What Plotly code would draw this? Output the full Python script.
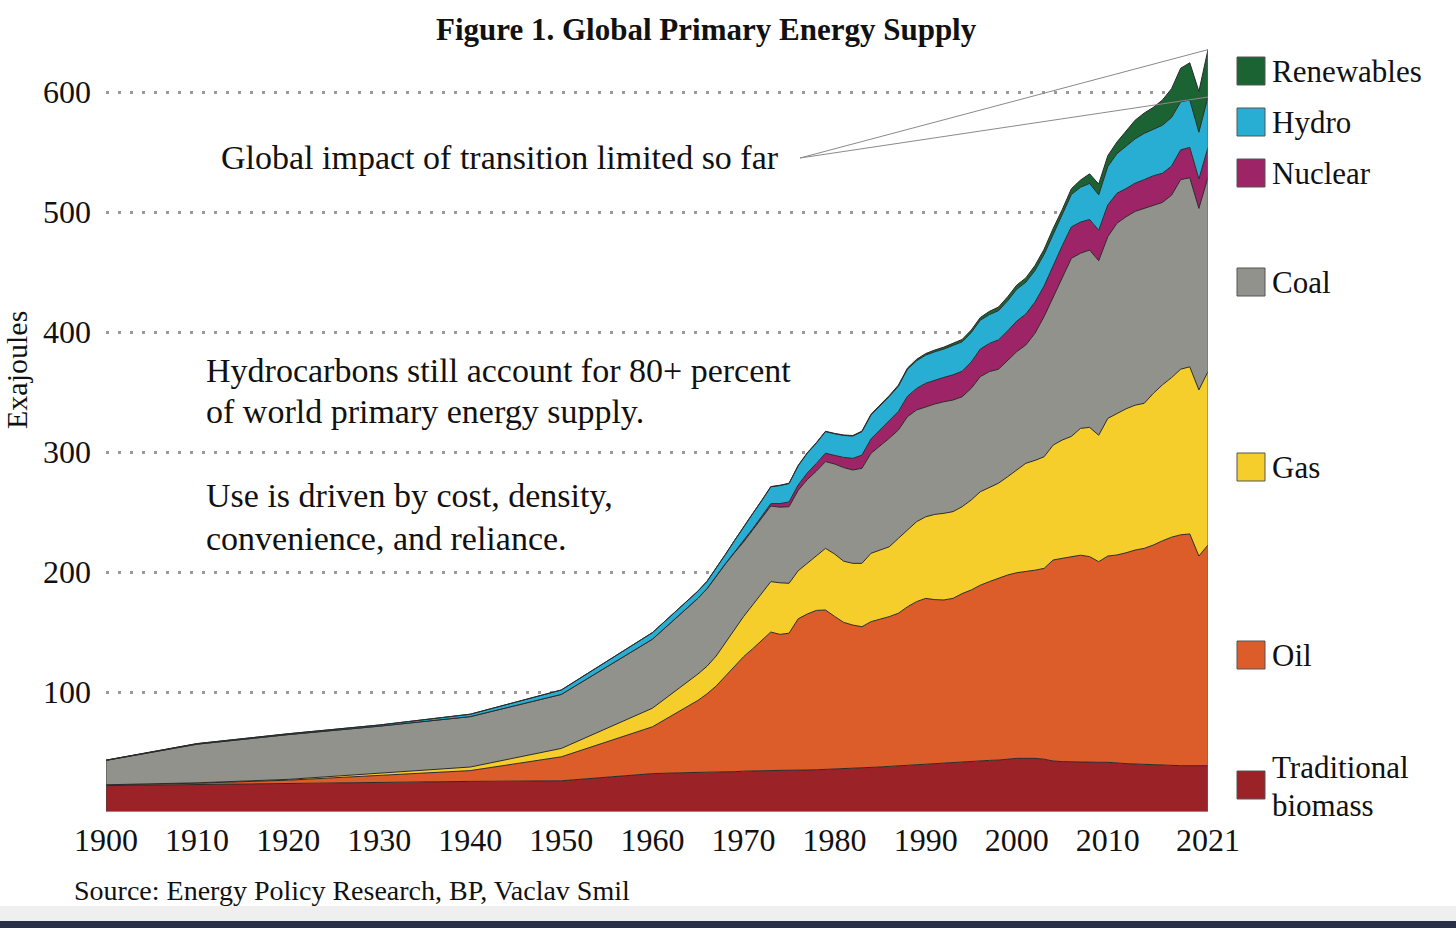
import plotly.graph_objects as go

# ---------------- data (EJ) ----------------
years = [1900, 1910, 1920, 1930, 1940, 1950, 1960] + list(range(1965, 2022))

biomass = [22, 23, 24, 25, 25.5, 26, 32,
           33, 33, 33, 33.3, 33.6,
           34, 34, 34.2, 34.5, 34.7,
           35, 35, 35, 35.2, 35.5,
           35.5, 36, 36.5, 36.8, 37,
           37.5, 38, 38.5, 39, 39.5,
           40, 40.5, 41, 41.5, 42,
           42.3, 42.7, 43, 43.3, 44,
           44.7, 44.7, 44.7, 44, 42.5,
           42, 41.7, 41.4, 41.4, 41.4,
           41.4, 40.6, 40.3, 40, 39.7,
           39, 38.6, 38.6, 38.6, 38.6,
           38.6, 38.6]

oil = [0.5, 1, 2.5, 5.5, 9, 20, 39,
       60, 65.5, 72, 79.7, 87.4,
       95.4, 102, 108.8, 115.5, 113.3,
       114, 126, 130, 132.8, 132.8,
       127.5, 122, 119.3, 117.6, 121.6,
       123, 124.8, 127.1, 132, 135.8,
       138, 136.5, 135.7, 136.5, 140,
       142.7, 146.3, 149, 151.4, 153.5,
       154.7, 155.6, 156.8, 159, 167.5,
       169.4, 171.3, 172.6, 171.4, 167.2,
       171.9, 173.6, 175.7, 178.3, 180,
       183.5, 187.4, 190.4, 192.4, 193.1,
       174.7, 183.9]

gas = [0.2, 0.3, 0.7, 2, 3, 7, 15.5,
       22, 23, 25, 28, 31,
       33.4, 36.5, 39, 42, 43,
       41.6, 40, 42, 45, 51.4,
       52, 51, 51.4, 52.8, 57,
       58, 58.2, 62.4, 64, 66.6,
       68, 71, 72.2, 72.3, 72.4,
       75, 77.9, 78.5, 79.3, 81.9,
       85.6, 90.3, 91.5, 93, 95.8,
       98.6, 100, 105.7, 107.7, 105.4,
       114.7, 117.8, 120, 120.7, 120.9,
       126.4, 130, 133, 138, 139.3,
       138.4, 144.5]

coal = [20.3, 32.2, 37.3, 39, 42, 45, 57.5,
        63, 64.5, 66.5, 65.5, 64,
        62.2, 62.5, 63, 63, 63,
        63.8, 67, 70, 71, 72.3,
        75, 78, 77.8, 79.2, 83.3,
        86.5, 90.4, 90.3, 94.4, 93.1,
        91.8, 92, 93, 93, 91.6,
        93, 95.9, 96.5, 95, 96.6,
        98.6, 98.6, 105.9, 116.8, 123.6,
        136, 148.4, 145.9, 147.8, 145.4,
        151.4, 158.6, 160, 161.5, 162.4,
        157.1, 152, 152, 158, 157.5,
        151.3, 162]

nuclear = [0, 0, 0, 0, 0, 0, 0,
           0.2, 0.2, 0.3, 0.4, 0.5,
           0.8, 1, 1.5, 2, 3,
           4, 4.5, 5.5, 6.5, 7,
           7.2, 8.5, 9.7, 11, 12,
           13.5, 14.5, 15.5, 17, 18,
           19.5, 20, 20.3, 21, 21.3,
           22, 23, 23.5, 24.5, 25,
           25.5, 25.8, 26, 25.5, 26.3,
           26, 26.2, 26, 25.5, 25.4,
           26.5, 25, 23.5, 23.5, 24,
           24.2, 24.3, 24.3, 24.8, 25.3,
           24.5, 24.8]

hydro = [0.2, 0.5, 0.7, 1, 2, 3.7, 5.5,
         5.8, 6, 6.3, 7.5, 9.5,
         12, 12.5, 13, 14, 15,
         15.3, 16, 16.5, 17, 18,
         18, 18.3, 18.6, 19.5, 20,
         20, 20.3, 21, 22.5, 23,
         23.4, 23.5, 23.6, 24.5, 24.5,
         24.5, 24, 24, 24.3, 25,
         26.5, 26.5, 26.3, 26.3, 26,
         25.5, 27, 29, 30, 29.5,
         32, 33, 35, 37, 38.5,
         39, 40, 40.5, 40, 39.5,
         39, 42]

renewables = [0, 0, 0, 0, 0, 0, 0,
              0.2, 0.2, 0.2, 0.2, 0.2,
              0.2, 0.2, 0.2, 0.2, 0.3,
              0.3, 0.3, 0.3, 0.3, 0.3,
              0.3, 0.4, 0.4, 0.5, 0.6,
              0.7, 0.8, 0.9, 1, 1.2,
              1.3, 1.5, 1.6, 1.8, 2,
              2.1, 2.3, 2.7, 3, 3.3,
              3.5, 3.6, 4.2, 4.3, 4.6,
              4.6, 4.8, 6, 8, 9,
              9, 9.7, 13, 15.5, 17,
              18, 21, 24, 28, 31,
              34, 39.5]

series_names = ["Traditional biomass", "Oil", "Gas", "Coal", "Nuclear", "Hydro", "Renewables"]
series_values = [biomass, oil, gas, coal, nuclear, hydro, renewables]
series_colors = ["#9B2328", "#DC5C2A", "#F6CE2B", "#92928D", "#9D2466", "#28AED3", "#1C6333"]

x_tickvals = [1900, 1910, 1920, 1930, 1940, 1950, 1960, 1970, 1980, 1990, 2000, 2010, 2021]
x_ticktext = [str(v) for v in x_tickvals]
y_tickvals = [100, 200, 300, 400, 500, 600]

FONT = "Liberation Serif"

# ---------------- layout helpers (pixel -> paper) ----------------
W, H = 1456, 928
L, R, T, B = 106, 248, 32, 116
PW, PH = W - L - R, H - T - B


def px(xp):
    return (xp - L) / PW


def py(yp):
    return (H - B - yp) / PH


fig = go.Figure()
for name, vals, col in zip(series_names, series_values, series_colors):
    fig.add_trace(go.Scatter(
        x=years, y=vals, name=name, stackgroup="energy", mode="lines",
        line=dict(color="#2a2a2a", width=1), fillcolor=col,
        hovertemplate=name + " %{x}: %{y} EJ<extra></extra>"))

total_first = sum(s[0] for s in series_values)
total_last = sum(s[-1] for s in series_values)
hydro_top_last = total_last - renewables[-1]

shapes = []
# outline edges of the stacked areas
shapes.append(dict(type="line", xref="x", yref="y", x0=years[0], x1=years[0], y0=0, y1=total_first,
                   line=dict(color="#444", width=1)))
shapes.append(dict(type="line", xref="x", yref="y", x0=years[-1], x1=years[-1], y0=0, y1=total_last,
                   line=dict(color="#666", width=1)))
shapes.append(dict(type="line", xref="x", yref="y", x0=years[0], x1=years[-1], y0=0, y1=0,
                   line=dict(color="#d0d0d0", width=1)))
# call-out lines
call_x = 1900 + (800 - L) / (PW / (years[-1] - years[0]))
call_y = (H - B - 158) / (PH / 650)
for yt in (total_last, hydro_top_last):
    shapes.append(dict(type="line", xref="x", yref="y", x0=call_x, y0=call_y, x1=years[-1], y1=yt,
                       line=dict(color="#8a8a8a", width=1)))

# legend (custom positions)
legend_rows = [("Renewables", "#1C6333", 71), ("Hydro", "#28AED3", 122), ("Nuclear", "#9D2466", 173),
               ("Coal", "#92928D", 282), ("Gas", "#F6CE2B", 467), ("Oil", "#DC5C2A", 655),
               ("Traditional biomass", "#9B2328", 785)]
annotations = []
LEG_SIZE = 31
for label, col, cy in legend_rows:
    shapes.append(dict(type="rect", xref="paper", yref="paper", x0=px(1237), x1=px(1265),
                       y0=py(cy + 14), y1=py(cy - 14), fillcolor=col,
                       line=dict(color="#555", width=1)))
    if label == "Traditional biomass":
        annotations.append(dict(text="Traditional", x=px(1270), y=py(767), xref="paper", yref="paper",
                                xanchor="left", yanchor="middle", showarrow=False,
                                font=dict(family=FONT, size=LEG_SIZE, color="#111")))
        annotations.append(dict(text="biomass", x=px(1270), y=py(805), xref="paper", yref="paper",
                                xanchor="left", yanchor="middle", showarrow=False,
                                font=dict(family=FONT, size=LEG_SIZE, color="#111")))
    else:
        annotations.append(dict(text=label, x=px(1270), y=py(cy), xref="paper", yref="paper",
                                xanchor="left", yanchor="middle", showarrow=False,
                                font=dict(family=FONT, size=LEG_SIZE, color="#111")))

# bottom strip of the screenshot
shapes.append(dict(type="rect", xref="paper", yref="paper", x0=px(0), x1=px(W), y0=py(921), y1=py(906),
                   fillcolor="#efefef", line=dict(width=0), layer="below"))
shapes.append(dict(type="rect", xref="paper", yref="paper", x0=px(0), x1=px(W), y0=py(928), y1=py(921),
                   fillcolor="#283048", line=dict(width=0)))


def note(text, xp, yp, anchor="left", size=34, bold=False, angle=0):
    annotations.append(dict(text=("<b>%s</b>" % text) if bold else text, x=px(xp), y=py(yp),
                            xref="paper", yref="paper", xanchor=anchor, yanchor="middle",
                            showarrow=False, textangle=angle,
                            font=dict(family=FONT, size=size, color="#111")))


note("Figure 1. Global Primary Energy Supply", 706, 29, anchor="center", size=31, bold=True)
note("Global impact of transition limited so far", 781, 157, anchor="right")
note("Hydrocarbons still account for 80+ percent", 204, 370)
note("of world primary energy supply.", 204, 411)
note("Use is driven by cost, density,", 204, 495)
note("convenience, and reliance.", 204, 538)
note("Source: Energy Policy Research, BP, Vaclav Smil", 72, 890, size=28)
note("Exajoules", 16, 370, anchor="center", size=30, angle=-90)

fig.update_layout(
    width=W, height=H,
    margin=dict(l=L, r=R, t=T, b=B),
    paper_bgcolor="white", plot_bgcolor="white",
    showlegend=False,
    font=dict(family=FONT, size=32, color="#111"),
    xaxis=dict(range=[years[0], years[-1]], tickvals=x_tickvals, ticktext=x_ticktext,
               showgrid=False, zeroline=False, showline=False, ticks="",
               tickfont=dict(family=FONT, size=32, color="#111"), ticklabelstandoff=6),
    yaxis=dict(range=[0, 650], tickvals=y_tickvals, showgrid=True, gridcolor="#9a9a9a",
               griddash="3px,9px", gridwidth=2.5, zeroline=False, showline=False, ticks="",
               tickfont=dict(family=FONT, size=32, color="#111"), ticklabelstandoff=14),
    shapes=shapes, annotations=annotations,
)

fig.write_html("out.html", config={"displayModeBar": False},
               post_script="document.body.style.margin='0px';")
